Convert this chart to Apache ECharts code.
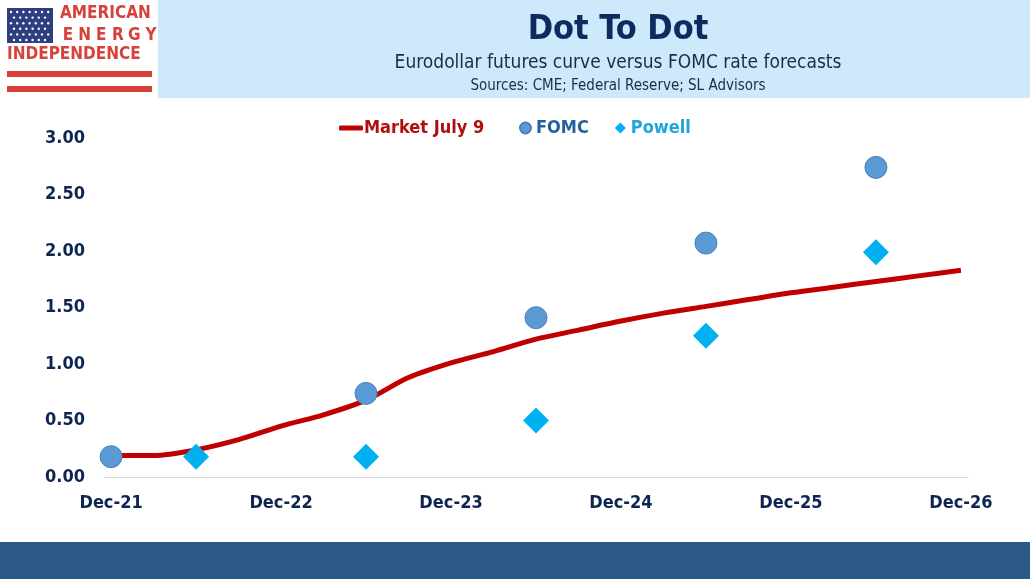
<!DOCTYPE html>
<html>
<head>
<meta charset="utf-8">
<script src="https://cdn.jsdelivr.net/npm/echarts@6/dist/echarts.min.js"></script>
<style>
  html, body { margin: 0; padding: 0; background: #fff; }
  #main { width: 1030px; height: 579px; }
</style>
</head>
<body>
<div id="main"></div>
<script>
var chartDom = document.getElementById('main');
var myChart = echarts.init(chartDom);
var option;

// months after Dec-21
var xLabels = ['Dec-21', 'Dec-22', 'Dec-23', 'Dec-24', 'Dec-25', 'Dec-26'];
var labelMonths = [0, 12, 24, 36, 48, 60];

// Eurodollar curve, quarterly
var marketMonths = [0, 3, 6, 9, 12, 15, 18, 21, 24, 27, 30, 33, 36, 39, 42, 45, 48, 51, 54, 57, 60];
var marketValues = [0.19, 0.19, 0.24, 0.33, 0.45, 0.55, 0.68, 0.88, 1.01, 1.11, 1.22,
  1.30, 1.38, 1.45, 1.51, 1.57, 1.63, 1.68, 1.73, 1.78, 1.83];

var fomcMonths = [0, 18, 30, 42, 54];
var fomcValues = [0.18, 0.74, 1.41, 2.07, 2.74];

var powellMonths = [6, 18, 30, 42, 54];
var powellValues = [0.18, 0.18, 0.50, 1.25, 1.99];

var yTicks = [0, 0.5, 1, 1.5, 2, 2.5, 3];

function pairs(xs, ys) {
  return xs.map(function (x, i) { return [x, ys[i]]; });
}

var font = '"DejaVu Sans Condensed", "DejaVu Sans", sans-serif';
var navy = '#0e2552';
var red = '#c00000';
var logoRed = '#d8413a';

// logo: flag with stars
var logo = [
  { type: 'rect', shape: { x: 7, y: 8, width: 46, height: 35 }, style: { fill: '#2f3e7e' } }
];
for (var r = 0; r < 6; r++) {
  for (var c = 0; c < 7; c++) {
    var off = r % 2 ? 3 : 0;
    if (r % 2 && c === 6) continue;
    logo.push({
      type: 'circle',
      shape: { cx: 11 + c * 6.2 + off, cy: 12 + r * 5.6, r: 1.2 },
      style: { fill: '#ffffff' }
    });
  }
}
'ENERGY'.split('').forEach(function (ch, i) {
  logo.push({
    type: 'text', x: 68 + i * 16.6, y: 27,
    style: { text: ch, font: 'bold 17px ' + font, fill: logoRed, align: 'center' }
  });
});
logo.push(
  { type: 'text', left: 60, top: 5, style: { text: 'AMERICAN', font: 'bold 17px ' + font, fill: logoRed } },
  { type: 'text', left: 7, top: 46, style: { text: 'INDEPENDENCE', font: 'bold 17px ' + font, fill: logoRed } },
  { type: 'rect', shape: { x: 7, y: 71, width: 145, height: 6 }, style: { fill: logoRed } },
  { type: 'rect', shape: { x: 7, y: 86, width: 145, height: 6 }, style: { fill: logoRed } }
);

option = {
  backgroundColor: '#ffffff',
  animation: false,
  textStyle: { fontFamily: font },
  graphic: [
    { type: 'rect', z: -10, shape: { x: 158, y: 0, width: 872, height: 98 }, style: { fill: '#cde9fb' } },
    { type: 'rect', z: -10, shape: { x: 0, y: 542, width: 1030, height: 37 }, style: { fill: '#2a5986' } }
  ].concat(logo),
  title: [
    {
      text: 'Dot To Dot',
      left: 613, top: 8, textAlign: 'center',
      textStyle: { fontFamily: font, fontSize: 34, fontWeight: 'bold', color: '#0f2a5e' }
    },
    {
      text: 'Eurodollar futures curve versus FOMC rate forecasts',
      left: 613, top: 49, textAlign: 'center',
      textStyle: { fontFamily: font, fontSize: 19, fontWeight: 'normal', color: '#1b2b4b' }
    },
    {
      text: 'Sources: CME; Federal Reserve; SL Advisors',
      left: 613, top: 74, textAlign: 'center',
      textStyle: { fontFamily: font, fontSize: 15, fontWeight: 'normal', color: '#1b2b4b' }
    }
  ],
  legend: [
    {
      left: 334, top: 114,
      itemWidth: 24, itemHeight: 5,
      data: [{ name: 'Market July 9', icon: 'roundRect', textStyle: { color: '#b00f0f' } }],
      textStyle: { fontFamily: font, fontSize: 18, fontWeight: 'bold', padding: [0, 0, 0, -4] }
    },
    {
      left: 514, top: 114,
      itemWidth: 11, itemHeight: 11, itemGap: 26,
      data: [
        { name: 'FOMC', textStyle: { color: '#245f9e' } },
        { name: 'Powell', textStyle: { color: '#1fa5dc' } }
      ],
      textStyle: { fontFamily: font, fontSize: 18, fontWeight: 'bold' }
    }
  ],
  grid: { left: 104, right: 62, top: 138, bottom: 102 },
  xAxis: {
    type: 'value',
    min: -0.5,
    max: 60.5,
    axisLine: { show: true, lineStyle: { color: '#d9d9d9', width: 1 } },
    axisTick: { show: false },
    splitLine: { show: false },
    axisLabel: {
      customValues: labelMonths,
      margin: 17,
      fontSize: 18,
      fontWeight: 'bold',
      color: navy,
      fontFamily: font,
      formatter: function (v) { return xLabels[labelMonths.indexOf(v)]; }
    }
  },
  yAxis: {
    type: 'value',
    min: 0,
    max: 3,
    interval: 0.5,
    axisLine: { show: false },
    axisTick: { show: false },
    splitLine: { show: false },
    axisLabel: {
      customValues: yTicks,
      margin: 19,
      fontSize: 18,
      fontWeight: 'bold',
      color: navy,
      fontFamily: font,
      formatter: function (v) { return v.toFixed(2); }
    }
  },
  series: [
    {
      name: 'Market July 9',
      type: 'line',
      smooth: 0.3,
      symbol: 'none',
      z: 1,
      lineStyle: { color: red, width: 5 },
      itemStyle: { color: red },
      data: pairs(marketMonths, marketValues)
    },
    {
      name: 'FOMC',
      type: 'scatter',
      symbol: 'circle',
      symbolSize: 22,
      z: 2,
      itemStyle: { color: '#5b9bd5', borderColor: '#4a7fb5', borderWidth: 1, opacity: 1 },
      data: pairs(fomcMonths, fomcValues)
    },
    {
      name: 'Powell',
      type: 'scatter',
      symbol: 'diamond',
      symbolSize: 26,
      z: 3,
      itemStyle: { color: '#00b0f0', opacity: 1 },
      data: pairs(powellMonths, powellValues)
    }
  ]
};

option && myChart.setOption(option);
</script>
</body>
</html>
